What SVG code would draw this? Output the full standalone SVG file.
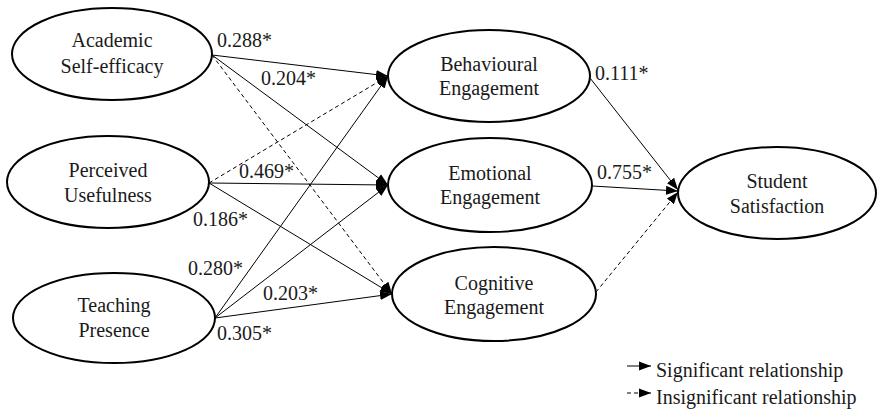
<svg xmlns="http://www.w3.org/2000/svg" width="877" height="411" viewBox="0 0 877 411" font-family="Liberation Serif" font-size="20">
  <style>
    text { font-family: 'Liberation Serif', 'Times New Roman', serif; font-size: 20px; fill: #1a1a1a; }
    .node ellipse { fill: #fff; stroke: #000; stroke-width: 2; }
    .node text { text-anchor: middle; }
    .path { stroke: #000; stroke-width: 1; fill: none; }
    .sig { marker-end: url(#head); }
    .ins { stroke-dasharray: 4 3; marker-end: url(#head); }
  </style>
  <defs>
    <marker id="head" markerUnits="userSpaceOnUse" markerWidth="13" markerHeight="11" refX="12" refY="5.5" orient="auto">
      <path d="M0,1 L12,5.5 L0,10 Z" fill="#000"/>
    </marker>
  </defs>

  <!-- structural paths -->
  <g id="connectors">
    <line class="path sig" x1="212" y1="55" x2="388" y2="76"/>
    <line class="path sig" x1="212" y1="55" x2="388" y2="185"/>
    <line class="path ins" x1="212" y1="55" x2="392" y2="294"/>
    <line class="path ins" x1="209" y1="183" x2="388" y2="76"/>
    <line class="path sig" x1="209" y1="183" x2="388" y2="185"/>
    <line class="path sig" x1="209" y1="183" x2="392" y2="294"/>
    <line class="path sig" x1="215" y1="318" x2="388" y2="76"/>
    <line class="path sig" x1="215" y1="318" x2="388" y2="185"/>
    <line class="path sig" x1="215" y1="318" x2="392" y2="294"/>
    <line class="path sig" x1="590" y1="78" x2="678" y2="190"/>
    <line class="path sig" x1="592" y1="186" x2="678" y2="191"/>
    <line class="path ins" x1="596" y1="292" x2="678" y2="192"/>
  </g>

  <g id="coefficients">
    <text x="217" y="47">0.288*</text>
    <text x="261" y="85">0.204*</text>
    <text x="239" y="178">0.469*</text>
    <text x="193" y="226">0.186*</text>
    <text x="188" y="275">0.280*</text>
    <text x="263" y="300">0.203*</text>
    <text x="217" y="340">0.305*</text>
    <text x="595" y="80">0.111*</text>
    <text x="597" y="179">0.755*</text>
  </g>

  <g id="academic-self-efficacy" class="node">
    <ellipse cx="112" cy="54" rx="100" ry="46"/>
    <text x="112" y="47">Academic</text>
    <text x="112" y="73">Self-efficacy</text>
  </g>
  <g id="perceived-usefulness" class="node">
    <ellipse cx="108" cy="182" rx="101" ry="46"/>
    <text x="108" y="177">Perceived</text>
    <text x="108" y="202">Usefulness</text>
  </g>
  <g id="teaching-presence" class="node">
    <ellipse cx="114" cy="318" rx="101" ry="45"/>
    <text x="114" y="312">Teaching</text>
    <text x="114" y="337">Presence</text>
  </g>
  <g id="behavioural-engagement" class="node">
    <ellipse cx="489" cy="76" rx="101" ry="46"/>
    <text x="489" y="71">Behavioural</text>
    <text x="489" y="95">Engagement</text>
  </g>
  <g id="emotional-engagement" class="node">
    <ellipse cx="490" cy="185" rx="102" ry="47"/>
    <text x="490" y="180">Emotional</text>
    <text x="490" y="204">Engagement</text>
  </g>
  <g id="cognitive-engagement" class="node">
    <ellipse cx="494" cy="294" rx="102" ry="47"/>
    <text x="494" y="290">Cognitive</text>
    <text x="494" y="314">Engagement</text>
  </g>
  <g id="student-satisfaction" class="node">
    <ellipse cx="777" cy="193" rx="99" ry="46"/>
    <text x="777" y="188">Student</text>
    <text x="777" y="213">Satisfaction</text>
  </g>

  <g id="legend">
    <line class="path sig" x1="627" y1="366" x2="651" y2="366"/>
    <text x="656" y="377">Significant relationship</text>
    <line class="path ins" x1="627" y1="393" x2="651" y2="393"/>
    <text x="656" y="404">Insignificant relationship</text>
  </g>
</svg>
